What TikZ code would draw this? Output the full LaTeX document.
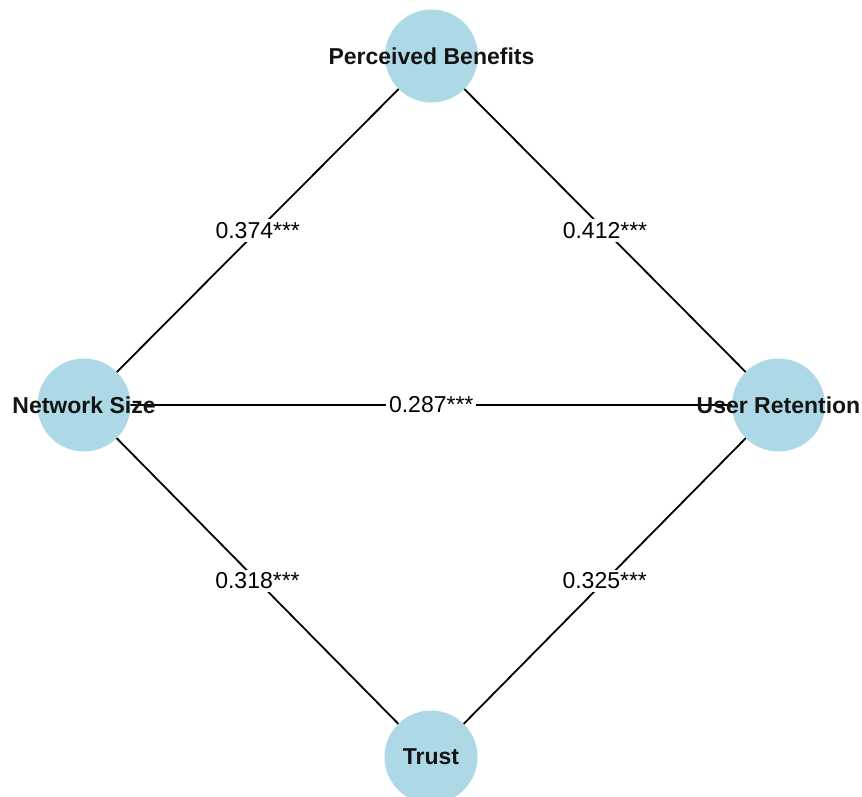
\documentclass[tikz,border=0pt]{standalone}
\usepackage{fontspec}
\setmainfont{Liberation Sans}
\usetikzlibrary{backgrounds}
\definecolor{nodeblue}{RGB}{173,216,230}
\tikzset{
  circ/.style={circle,fill=nodeblue,draw=none,minimum size=93pt,inner sep=0pt},
  ntext/.style={font=\fontsize{23}{27}\selectfont\bfseries,text=black!92,inner sep=0pt},
  edge/.style={line width=1.8pt,black},
  elabel/.style={fill=white,font=\fontsize{23}{27}\selectfont,inner sep=3pt}
}
\begin{document}
\begin{tikzpicture}[x=1pt,y=1pt]
\useasboundingbox (0,0) rectangle (862,-796);
\node[circ] (pb) at (431.5,-56) {};
\node[circ] (ns) at (84,-405) {};
\node[circ] (ur) at (778.5,-405) {};
\node[circ] (tr) at (431,-757) {};
\node[ntext] (pbt) at (pb) {Perceived Benefits};
\node[ntext] (nst) at (ns) {Network Size};
\node[ntext] (urt) at (ur) {User Retention};
\node[ntext] (trt) at (tr) {Trust};
\begin{pgfonlayer}{background}
\draw[edge] (ns.center) -- node[elabel] (l1) {0.374***} (pb.center);
\draw[edge] (pb.center) -- node[elabel] (l2) {0.412***} (ur.center);
\draw[edge] (ns.center) -- node[elabel] (l3) {0.287***} (ur.center);
\draw[edge] (ns.center) -- node[elabel] (l4) {0.318***} (tr.center);
\draw[edge] (tr.center) -- node[elabel] (l5) {0.325***} (ur.center);
\end{pgfonlayer}
\end{tikzpicture}
\end{document}
